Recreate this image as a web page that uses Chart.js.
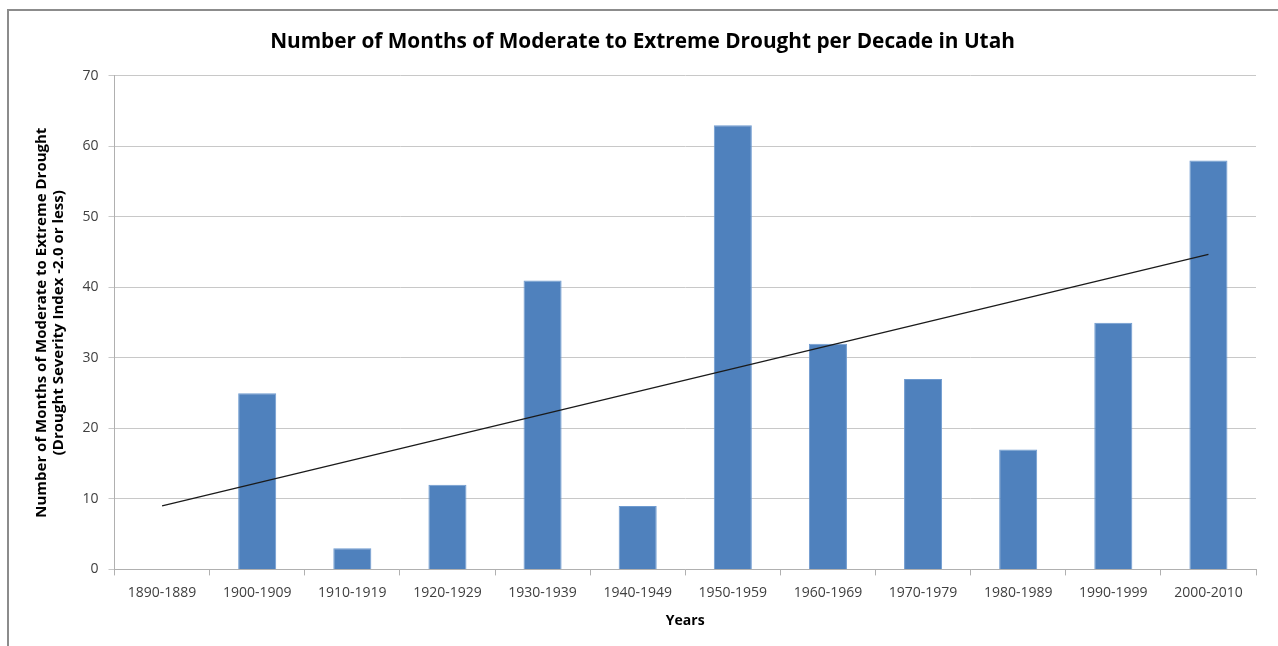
<!DOCTYPE html>
<html>
<head>
<meta charset="utf-8">
<script src="https://cdn.jsdelivr.net/npm/chart.js@4"></script>
<style>
html,body{margin:0;padding:0;background:#fff;}
#wrap{position:relative;width:1278px;height:646px;}
#frame{position:absolute;left:7px;top:9px;width:1290px;height:660px;border:2px solid #8c8c8c;box-sizing:border-box;pointer-events:none;}
canvas{position:absolute;left:0;top:0;}
</style>
</head>
<body>
<div id="wrap">
<canvas id="c" width="1278" height="646"></canvas>
<div id="frame"></div>
</div>
<script>
const categories = ["1890-1889","1900-1909","1910-1919","1920-1929","1930-1939","1940-1949","1950-1959","1960-1969","1970-1979","1980-1989","1990-1999","2000-2010"];
const droughtMonths = [0,25,3,12,41,9,63,32,27,17,35,58];
const trendLine = [9,null,null,null,null,null,null,null,null,null,null,44.7];
const yTicks = [0,10,20,30,40,50,60,70];

const FONT = "'Open Sans', 'Liberation Sans', sans-serif";

new Chart(document.getElementById('c'), {
  type: 'bar',
  data: {
    labels: categories,
    datasets: [
      {
        type: 'line',
        data: trendLine,
        spanGaps: true,
        borderColor: '#1a1a1a',
        borderWidth: 1.3,
        pointRadius: 0,
        fill: false,
        order: 0
      },
      {
        type: 'bar',
        data: droughtMonths,
        backgroundColor: '#4f81bd',
        borderColor: '#6f9bd0',
        borderWidth: 1,
        barPercentage: 0.8,
        categoryPercentage: 0.5,
        order: 1
      }
    ]
  },
  options: {
    responsive: false,
    animation: false,
    layout: { padding: { left: 29, right: 22, top: 30, bottom: 13 } },
    plugins: {
      legend: { display: false },
      tooltip: { enabled: false },
      title: {
        display: true,
        text: 'Number of Months of Moderate to Extreme Drought per Decade in Utah',
        color: '#000',
        font: { family: FONT, size: 20.8, weight: 'bold' },
        padding: { top: 0, bottom: 21 }
      }
    },
    scales: {
      x: {
        grid: { display: true, drawOnChartArea: false, drawTicks: true, tickLength: 6, offset: true, color: '#b0b0b0' },
        border: { display: true, color: '#b0b0b0', width: 1 },
        ticks: { color: '#404040', font: { family: FONT, size: 14 }, padding: 9, maxRotation: 0, autoSkip: false },
        title: { display: true, text: 'Years', color: '#000', font: { family: FONT, size: 14, weight: 'bold' }, padding: { top: 2 } }
      },
      y: {
        min: 0,
        max: 70,
        afterBuildTicks: (ax) => { ax.ticks = yTicks.map(v => ({ value: v })); },
        grid: { color: '#c8c8c8', drawTicks: true, tickLength: 6 },
        border: { display: true, color: '#b0b0b0', width: 1 },
        ticks: { color: '#404040', font: { family: FONT, size: 14 }, padding: 10 },
        title: {
          display: true,
          text: ['Number of Months of Moderate to Extreme Drought', '(Drought Severity Index -2.0 or less)'],
          color: '#000',
          font: { family: FONT, size: 15, weight: 'bold', lineHeight: 1.15 },
          padding: { bottom: 5 }
        }
      }
    }
  }
});
</script>
</body>
</html>
